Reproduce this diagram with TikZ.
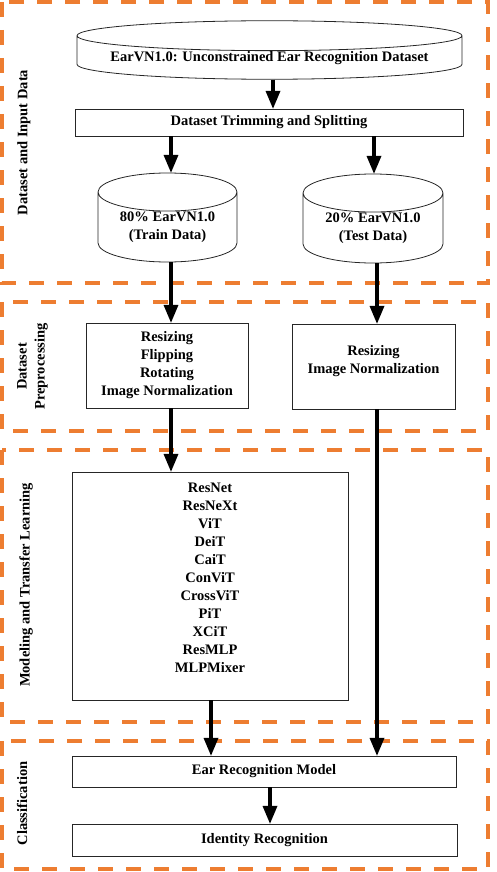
\documentclass[tikz,border=0pt]{standalone}
\usepackage{fontspec}
\setmainfont{Liberation Serif}
\usetikzlibrary{arrows,shapes.geometric}
\definecolor{stageorange}{HTML}{ED7D31}

\begin{document}
\begin{tikzpicture}[x=1pt,y=-1pt,>=triangle 45,
                    font=\fontsize{14.5}{18}\selectfont\bfseries]
  \tikzstyle{block}=[rectangle,draw=black!85,line width=0.8pt,align=center,inner sep=0pt]
  \tikzstyle{db}=[cylinder,shape border rotate=90,draw=black!85,line width=0.8pt,
                  align=center,inner sep=0pt,anchor=shape center]
  \tikzstyle{stage}=[draw=stageorange,line width=3.5pt,dash pattern=on 15pt off 13pt]
  \tikzstyle{stagename}=[rotate=90,align=center]
  \tikzstyle{flow}=[->,line width=3.2pt]

  \useasboundingbox (0,0) rectangle (496,872);

  % stages
  \draw[stage] (2,2) rectangle (488,283);
  \draw[stage] (2,302) rectangle (488,431);
  \draw[stage] (2,450) rectangle (488,722);
  \draw[stage] (2,741) rectangle (488,869);

  \node[stagename] (s1) at (24,142.5) {Dataset and Input Data};
  \node[stagename] (s2) at (32.5,366.5) {Dataset\\Preprocessing};
  \node[stagename] (s3) at (26,585) {Modeling and Transfer Learning};
  \node[stagename] (s4) at (22,803.5) {Classification};

  % blocks
  \node[db,minimum width=385pt,minimum height=56pt,aspect=0.094] (full) at (269.5,50)
       {EarVN1.0: Unconstrained Ear Recognition Dataset};
  \node[block,minimum width=388pt,minimum height=27pt] (trim) at (269,122.5)
       {Dataset Trimming and Splitting};
  \node[db,minimum width=139pt,minimum height=89pt,aspect=0.4] (train) at (167.5,217.5)
       {80\% EarVN1.0\\(Train Data)};
  \node[db,minimum width=140pt,minimum height=89pt,aspect=0.4] (test) at (373,218.5)
       {20\% EarVN1.0\\(Test Data)};
  \node[block,minimum width=162pt,minimum height=85pt] (prep1) at (167,365.5)
       {Resizing\\Flipping\\Rotating\\Image Normalization};
  \node[block,minimum width=163pt,minimum height=85pt,text depth=15pt] (prep2) at (373.5,366.5)
       {Resizing\\Image Normalization};
  \node[block,minimum width=276pt,minimum height=228pt,text depth=16pt] (models) at (210,586)
       {ResNet\\ResNeXt\\ViT\\DeiT\\CaiT\\ConViT\\CrossViT\\PiT\\XCiT\\ResMLP\\MLPMixer};
  \node[block,minimum width=384pt,minimum height=31pt] (earmodel) at (264,771.5)
       {Ear Recognition Model};
  \node[block,minimum width=385pt,minimum height=32pt] (identity) at (264.5,840)
       {Identity Recognition};

  % connectors
  \path[flow] ([xshift=3.5pt]full.south)   edge ([xshift=4pt]trim.north)
              ([xshift=-98pt]trim.south)   edge ([xshift=3.5pt]train.north)
              ([xshift=105pt]trim.south)   edge ([xshift=1pt]test.north)
              ([xshift=3.5pt]train.south)  edge ([xshift=4pt]prep1.north)
              ([xshift=4pt]test.south)     edge ([xshift=3.5pt]prep2.north)
              ([xshift=4pt]prep1.south)    edge ([xshift=-39pt]models.north)
              ([xshift=1pt]models.south)   edge ([xshift=-53pt]earmodel.north)
              ([xshift=3.5pt]prep2.south)  edge ([xshift=113pt]earmodel.north)
              ([xshift=6pt]earmodel.south) edge ([xshift=5.5pt]identity.north);
\end{tikzpicture}
\end{document}
